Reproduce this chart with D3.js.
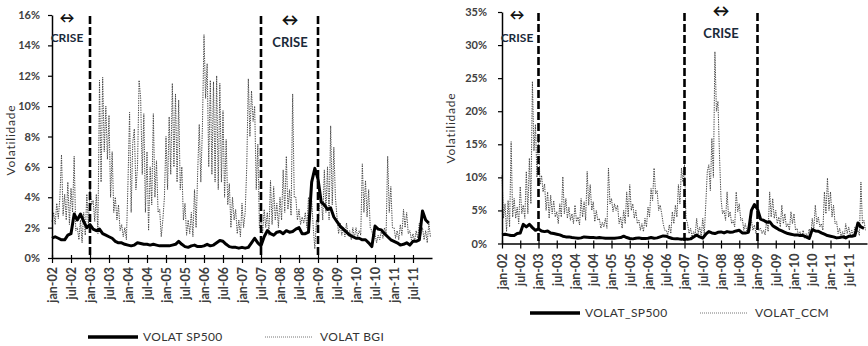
<!DOCTYPE html>
<html>
<head>
<meta charset="utf-8">
<script src="https://cdn.jsdelivr.net/npm/d3@7"></script>
<style>
  body { margin: 0; background: #fff; }
  svg { display: block; }
  text { font-family: Lato, "Open Sans", sans-serif; }
</style>
</head>
<body>
<svg id="chart" width="868" height="346"></svg>
<script>
// half-year tick labels, months counted from jan-02
const tickLabels = ['jan-02','jul-02','jan-03','jul-03','jan-04','jul-04','jan-05','jul-05','jan-06','jul-06',
  'jan-07','jul-07','jan-08','jul-08','jan-09','jul-09','jan-10','jul-10','jan-11','jul-11'];
const tickMonths = [0,6,12,18,24,30,36,42,48,54,60,66,72,78,84,90,96,102,108,114];

// monthly S&P 500 volatility (%), jan-02 .. dec-11
const sp500 = [
  1.3,1.4,1.3,1.2,1.2,1.5,1.6,2.9,2.5,2.9,2.4,2.0,
  2.2,1.9,1.8,1.9,1.6,1.5,1.4,1.3,1.1,1.0,1.0,0.9,
  0.85,0.8,0.85,1.0,0.95,0.9,0.9,0.85,0.9,0.85,0.8,0.8,
  0.8,0.8,0.85,0.9,1.1,0.9,0.75,0.7,0.8,0.85,0.75,0.75,
  0.8,0.9,0.8,0.85,1.0,1.15,1.1,0.9,0.75,0.7,0.7,0.65,
  0.7,0.65,0.7,1.0,1.3,1.0,0.8,1.4,1.8,1.6,1.5,1.7,
  1.75,1.6,1.8,1.7,1.75,1.9,2.0,1.6,1.6,1.7,5.0,5.9,
  5.2,3.7,3.5,3.2,3.3,2.7,2.4,2.1,1.9,1.7,1.5,1.4,
  1.3,1.3,1.2,1.2,1.0,0.75,2.1,1.9,1.85,1.6,1.4,1.2,
  1.1,1.0,0.85,0.9,1.0,0.85,1.1,1.1,1.2,3.1,2.5,2.3
];

// half-monthly BGI volatility (%), two values per month
const bgi = [
  2.4,3.0, 2.2,3.6, 2.6,4.0, 6.8,2.8, 4.2,2.5, 5.0,2.2, 4.6,3.0, 6.7,1.8, 2.0,1.2, 2.5,1.0, 3.0,1.5, 4.2,2.2,
  4.6,3.5, 3.8,2.4, 4.2,1.6, 11.7,5.0, 11.9,7.0, 10.0,6.5, 9.4,4.0, 7.0,3.0, 4.0,2.5, 3.5,1.8, 2.2,1.4, 2.0,1.2,
  5.0,9.6, 3.0,7.6, 8.5,4.5, 6.0,11.7, 10.5,5.5, 9.5,3.0, 7.0,1.8, 6.0,3.5, 9.5,4.0, 6.4,3.0, 3.2,1.4, 2.5,4.0,
  8.0,4.5, 9.3,5.5, 11.5,6.0, 10.8,5.0, 10.4,4.5, 6.0,2.5, 3.6,1.5, 2.5,1.6, 3.0,1.4, 4.5,2.0, 5.6,8.8, 5.0,8.6,
  14.7,10.5, 12.8,6.0, 11.7,5.5, 11.6,5.0, 12.0,4.5, 11.5,5.0, 9.7,4.0, 7.8,3.5, 4.9,2.0, 4.0,2.5, 3.2,1.6, 2.5,1.4,
  3.6,2.0, 3.0,6.0, 11.8,8.0, 11.0,9.0, 10.0,4.5, 7.5,2.0, 2.7,1.6, 3.2,2.0, 3.0,1.5, 5.1,2.2, 4.7,2.5, 3.6,2.0,
  4.0,2.5, 5.8,3.0, 6.7,3.2, 4.5,2.8, 10.8,4.0, 4.0,2.5, 3.2,2.2, 2.7,2.3, 3.0,2.0, 4.0,2.5, 3.8,2.0, 0.6,2.5,
  2.0,3.5, 4.0,2.5, 5.8,3.0, 6.0,2.5, 8.7,3.5, 7.3,4.0, 2.7,1.6, 2.3,1.5, 2.0,1.4, 2.3,1.5, 1.8,1.2, 2.0,1.3,
  2.0,1.4, 1.8,1.5, 6.2,3.0, 5.1,2.7, 4.5,2.0, 1.8,1.2, 1.6,1.0, 1.5,1.2, 1.8,1.3, 2.0,1.5, 6.7,3.0, 4.7,2.0,
  2.0,1.3, 1.8,1.2, 2.2,1.5, 3.2,2.0, 3.0,1.6, 1.8,1.2, 1.6,1.1, 1.8,1.3, 2.3,1.5, 2.0,1.2, 1.8,1.0, 2.3,1.4
];

// half-monthly CCM volatility (%), two values per month
const ccm = [
  10.3,3.8, 6.0,1.8, 6.5,2.5, 15.4,4.0, 6.8,3.8, 5.5,3.0, 8.6,4.5, 5.8,3.8, 10.9,4.5, 12.9,6.0, 24.5,14.0, 18.0,10.0,
  16.0,8.9, 10.3,7.8, 9.0,5.0, 7.8,3.8, 7.3,4.5, 6.5,4.0, 4.8,3.0, 6.0,4.0, 10.1,4.5, 6.8,3.8, 5.5,3.5, 4.5,3.0,
  5.8,3.3, 4.0,2.8, 6.8,4.0, 6.3,3.5, 10.9,5.8, 8.9,5.0, 6.3,3.3, 5.0,3.5, 3.8,2.3, 3.2,2.5, 3.8,2.3, 11.4,6.0,
  6.8,4.8, 6.0,5.0, 5.8,3.0, 4.0,2.3, 5.0,3.0, 7.8,4.0, 8.9,5.0, 6.0,3.8, 5.0,3.0, 3.5,2.0, 3.0,1.8, 3.8,2.5,
  5.5,4.0, 8.3,6.5, 11.4,7.5, 8.0,5.0, 5.8,4.5, 3.0,2.0, 2.0,1.3, 2.8,1.5, 4.8,3.0, 5.8,4.0, 8.9,6.0, 11.4,9.3,
  11.9,3.8, 3.0,1.5, 2.3,1.0, 1.8,1.2, 3.8,1.5, 2.5,1.0, 3.8,1.3, 6.0,10.9, 11.9,8.0, 15.9,10.0, 29.0,20.0, 21.5,13.4,
  6.8,4.5, 5.0,3.5, 7.8,4.0, 4.8,3.0, 3.5,2.5, 7.8,4.8, 6.0,3.5, 3.8,2.0, 3.0,1.8, 2.5,1.8, 3.5,2.0, 2.8,1.5,
  3.3,2.0, 2.3,1.5, 2.0,1.3, 3.5,1.8, 7.8,4.0, 6.8,3.8, 5.0,3.0, 4.0,2.5, 5.8,3.0, 4.5,2.5, 3.0,2.0, 4.8,3.0,
  4.5,2.0, 2.3,1.2, 1.8,1.0, 2.0,0.8, 1.5,1.0, 2.2,1.0, 3.8,2.0, 5.8,3.0, 4.0,2.5, 3.0,2.0, 7.8,4.5, 9.9,5.0,
  7.8,4.0, 5.8,3.0, 3.3,1.5, 2.3,1.0, 1.8,0.8, 3.0,1.5, 2.5,1.2, 2.0,1.0, 2.5,1.5, 2.0,1.2, 9.3,3.0, 3.5,2.0
];

// crisis markers (month index) for each panel
const crisisLeft = [12, 66, 84];
const crisisRight = [12, 60, 84];

const svg = d3.select('#chart');

function drawPanel(p) {
  const x = d3.scaleLinear().domain([0, 120]).range([p.left, p.right]);
  const y = d3.scaleLinear().domain([0, p.yMax]).range([p.bottom, p.top]);
  const g = svg.append('g');

  // dotted series
  const half = p.series.map((v, i) => [i / 2, v]);
  g.append('path')
    .datum(half)
    .attr('fill', 'none')
    .attr('stroke', '#444')
    .attr('stroke-width', 1)
    .attr('stroke-dasharray', '1.3,1.1')
    .attr('d', d3.line().x(d => x(d[0])).y(d => y(d[1])));

  // crisis dashed lines
  g.selectAll('.crisis')
    .data(p.crisis)
    .enter()
    .append('line')
    .attr('x1', d => x(d)).attr('x2', d => x(d))
    .attr('y1', p.top + 1).attr('y2', p.bottom)
    .attr('stroke', '#000')
    .attr('stroke-width', 2.6)
    .attr('stroke-dasharray', '8,3');

  // S&P 500 line
  g.append('path')
    .datum(sp500.map((v, i) => [i, v]))
    .attr('fill', 'none')
    .attr('stroke', '#000')
    .attr('stroke-width', 3)
    .attr('stroke-linejoin', 'round')
    .attr('d', d3.line().x(d => x(d[0])).y(d => y(d[1])));

  // y axis
  const ya = g.append('g')
    .attr('transform', 'translate(' + p.left + ',0)')
    .call(d3.axisLeft(y).tickValues(d3.range(0, p.yMax + 1, p.yStep))
      .tickFormat(d => d + '%').tickSizeInner(4).tickSizeOuter(0).tickPadding(p.yPad));
  ya.select('.domain').attr('stroke', '#000').attr('stroke-width', 1.5);
  ya.selectAll('.tick line').attr('stroke', '#000').attr('stroke-width', 1.2);
  ya.selectAll('text').attr('font-size', 11).attr('font-weight', 'bold').attr('fill', '#404040');

  // x axis
  const xa = g.append('g')
    .attr('transform', 'translate(0,' + p.bottom + ')')
    .call(d3.axisBottom(x).tickValues(tickMonths)
      .tickFormat((d, i) => tickLabels[i]).tickSizeInner(5).tickSizeOuter(0));
  xa.select('.domain').attr('stroke', '#000').attr('stroke-width', 1.5);
  xa.selectAll('.tick line').attr('stroke', '#000').attr('stroke-width', 1.2).attr('y1', -3);
  xa.selectAll('text')
    .attr('transform', 'rotate(-90)')
    .attr('x', -p.xPad).attr('y', 0).attr('dy', '0.35em')
    .attr('text-anchor', 'end')
    .attr('font-size', 12.5).attr('font-weight', 'bold').attr('fill', '#404040');

  // y title
  g.append('text')
    .attr('transform', 'translate(' + p.titleX + ',' + p.titleY + ') rotate(-90)')
    .attr('text-anchor', 'middle')
    .attr('font-size', 12).attr('letter-spacing', 0.8).attr('fill', '#333')
    .text('Volatilidade');

  // crisis labels
  p.labels.forEach(l => {
    g.append('text')
      .attr('x', l.x).attr('y', l.ay)
      .attr('text-anchor', 'middle')
      .attr('font-size', l.as).attr('font-weight', 'bold').attr('fill', '#111')
      .text('\u2194');
    g.append('text')
      .attr('x', l.x).attr('y', l.cy)
      .attr('text-anchor', 'middle')
      .attr('font-size', l.cs).attr('font-weight', 'bold').attr('fill', '#1a2a3a')
      .text('CRISE');
  });

  // legend
  const lg = g.append('g').attr('transform', 'translate(0,' + p.legY + ')');
  lg.append('line').attr('x1', p.leg[0]).attr('x2', p.leg[0] + 50)
    .attr('stroke', '#000').attr('stroke-width', 3.5);
  lg.append('text').attr('x', p.leg[0] + 55).attr('dy', '0.35em')
    .attr('font-size', 12).attr('letter-spacing', 0.4).attr('fill', '#333').text(p.names[0]);
  lg.append('line').attr('x1', p.leg[1]).attr('x2', p.leg[1] + 48)
    .attr('stroke', '#777').attr('stroke-width', 1).attr('stroke-dasharray', '1,1');
  lg.append('text').attr('x', p.leg[1] + 55).attr('dy', '0.35em')
    .attr('font-size', 12).attr('letter-spacing', 0.4).attr('fill', '#333').text(p.names[1]);
}

drawPanel({
  left: 52, right: 432, top: 15, bottom: 258, yMax: 16, yStep: 2, yPad: 8, xPad: 9,
  series: bgi, crisis: crisisLeft,
  titleX: 15, titleY: 140,
  labels: [
    { x: 67, ay: 23, as: 15, cy: 42, cs: 12 },
    { x: 290, ay: 26, as: 17, cy: 47, cs: 13 }
  ],
  legY: 337, leg: [88, 265], names: ['VOLAT SP500', 'VOLAT BGI']
});

drawPanel({
  left: 502, right: 867, top: 12, bottom: 243.5, yMax: 35, yStep: 5, yPad: 11, xPad: 10,
  series: ccm, crisis: crisisRight,
  titleX: 455, titleY: 128,
  labels: [
    { x: 517, ay: 20, as: 15, cy: 42, cs: 12 },
    { x: 721, ay: 17, as: 17, cy: 38, cs: 13 }
  ],
  legY: 313, leg: [530, 700], names: ['VOLAT_SP500', 'VOLAT_CCM']
});
</script>
</body>
</html>
